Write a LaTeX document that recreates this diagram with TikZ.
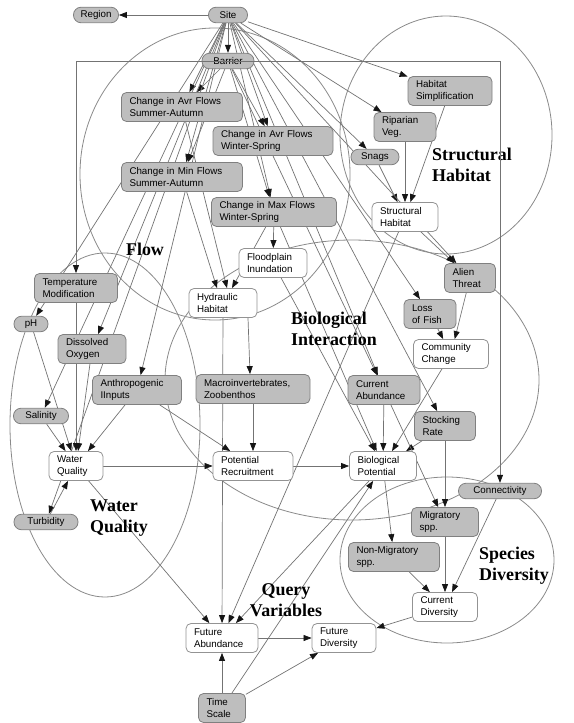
\documentclass[tikz,border=0pt]{standalone}
\usepackage{fontspec}
\setmainfont{Liberation Serif}
\setsansfont{Liberation Sans}
\usetikzlibrary{positioning,arrows.meta,shapes.geometric,backgrounds}
\definecolor{boxgray}{HTML}{BEBEBE}
\definecolor{boxline}{HTML}{808080}
\definecolor{wireg}{HTML}{737373}
\definecolor{zoneg}{HTML}{8A8A8A}
\definecolor{tipk}{HTML}{151515}

\begin{document}
\begin{tikzpicture}[x=1bp,y=-1bp,
  every node/.style={font=\sffamily\fontsize{9.8}{12.5}\selectfont},
  gb/.style={draw=boxline,fill=boxgray,rounded corners=5bp,line width=0.8bp,minimum height=29bp,inner xsep=8bp,inner ysep=1bp,align=left},
  wb/.style={gb,fill=white,draw=boxline!85},
  pb/.style={draw=boxline,fill=boxgray,rounded corners=7.5bp,line width=0.8bp,minimum height=15.5bp,inner sep=1bp},
  ar/.style={draw=wireg,line width=0.7bp,-{Triangle[length=8bp,width=6bp,color=tipk]}},
  zn/.style={draw=zoneg,line width=0.8bp},
  lb/.style={font=\rmfamily\bfseries\fontsize{18}{21}\selectfont,align=left}]
\useasboundingbox (0,0) rectangle (574,723);
\foreach \n/\x/\y/\w/\t in {
  avrsa/182/107/121/{Change in Avr Flows\\Summer-Autumn},
  avrws/273/141/120/{Change in Avr Flows\\Winter-Spring},
  minsa/182/177/121/{Change in Min Flows\\Summer-Autumn},
  maxws/274/212/125/{Change in Max Flows\\Winter-Spring},
  habsimp/450/91/84/{Habitat\\Simplification},
  ripveg/405/127/62/{Riparian\\Veg.},
  tempmod/76/288/83/{Temperature\\Modification},
  dox/92/349/68/{Dissolved\\Oxygen},
  anthro/137/390/89/{Anthropogenic\\IInputs},
  macro/253/389/114/{Macroinvertebrates,\\Zoobenthos},
  alien/470/278/51/{Alien\\Threat},
  lossf/430/314/52/{Loss\\of Fish},
  curab/384/390/72/{Current\\Abundance},
  stock/445/426/61/{Stocking\\Rate},
  migr/445/522/67/{Migratory\\spp.},
  nonmigr/394/557/91/{Non-Migratory\\spp.},
  tscale/222/708/47/{Time\\Scale}}{
    \pgfmathsetmacro\tw{\w-16}
    \node[gb,text width=\tw bp] (\n) at (\x,\y) {\t};
}
\foreach \n/\x/\y/\w/\t in {
  strhab/405/217/66/{Structural\\Habitat},
  flood/273/263/68/{Floodplain\\Inundation},
  hydhab/223/303/68/{Hydraulic\\Habitat},
  wq/76/466/54/{Water\\Quality},
  potrec/253/466/80/{Potential\\Recruitment},
  commch/451/354/75/{Community\\Change},
  biopot/383/466/67/{Biological\\Potential},
  curdiv/445/607/65/{Current\\Diversity},
  futab/222/638/72/{Future\\Abundance},
  futdiv/344/638/64/{Future\\Diversity}}{
    \pgfmathsetmacro\tw{\w-16}
    \node[wb,text width=\tw bp] (\n) at (\x,\y) {\t};
}
\foreach \n/\x/\y/\w/\t in {
  site/228/15/39/Site, region/96/15/45/Region, barrier/228/61/52/Barrier,
  snags/375/157/48/Snags, ph/31/324/34/pH, salin/41/416/55/Salinity,
  turb/46/522/64/Turbidity, conn/500/491/83/Connectivity}{
    \node[pb,minimum width=\w bp] (\n) at (\x,\y) {\t};
}
\node[lb] (lstr) at (472,165) {Structural\\Habitat};
\node[lb] (lflow) at (145,249) {Flow};
\node[lb] (lbio) at (334,329) {Biological\\Interaction};
\node[lb] (lwq) at (119,518) {Water\\Quality};
\node[lb] (lspd) at (514,566) {Species\\Diversity};
\node[lb,align=center] (lqv) at (286,600) {Query\\Variables};
\begin{scope}[on background layer]
\draw[zn] (215,174) ellipse [x radius=135bp, y radius=146bp];
\draw[zn] (446,135) ellipse [x radius=106bp, y radius=119bp];
\draw[zn] (352,380) ellipse [x radius=187bp, y radius=140bp];
\draw[zn] (105,425) ellipse [x radius=95bp, y radius=172bp];
\draw[zn] (447,560) ellipse [x radius=107bp, y radius=83bp];
\foreach \a/\b in {site/region, site/barrier, site/avrsa, barrier/avrsa,
  site/avrws, barrier/avrws, site/minsa, barrier/minsa, site/maxws,
  barrier/maxws, site/habsimp, site/ripveg, site/snags, snags/strhab,
  ripveg/strhab, habsimp/strhab, maxws/flood, hydhab/futab, site/ph,
  site/dox, site/salin, site/anthro, site/turb, ph/wq, salin/wq,
  tempmod/wq, dox/wq, anthro/wq, turb/wq, wq/potrec, macro/potrec,
  anthro/potrec, potrec/biopot, wq/futab, site/alien, strhab/alien,
  site/lossf, lossf/commch, alien/commch, site/curab, barrier/curab,
  site/stock, curab/biopot, commch/biopot, stock/biopot, flood/biopot,
  maxws/biopot, stock/migr, curab/migr, migr/curdiv, nonmigr/curdiv,
  conn/curdiv, biopot/nonmigr, tscale/biopot, biopot/futab, strhab/futab,
  futab/futdiv, tscale/futab, tscale/futdiv, curdiv/futdiv}
  \draw[ar] (\a) -- (\b);
\draw[ar] (minsa) -- ([xshift=-6bp]hydhab.north);
\draw[ar] (avrsa) -- ([xshift=4bp]hydhab.north);
\draw[ar] (maxws) -- ([xshift=9bp]hydhab.north);
\draw[ar] ([xshift=25bp]hydhab.south) -- ([xshift=-3bp]macro.north);
\end{scope}
\draw[ar] (barrier.center) -| (tempmod);
\draw[ar] (barrier.center) -| (conn);
\end{tikzpicture}
\end{document}
